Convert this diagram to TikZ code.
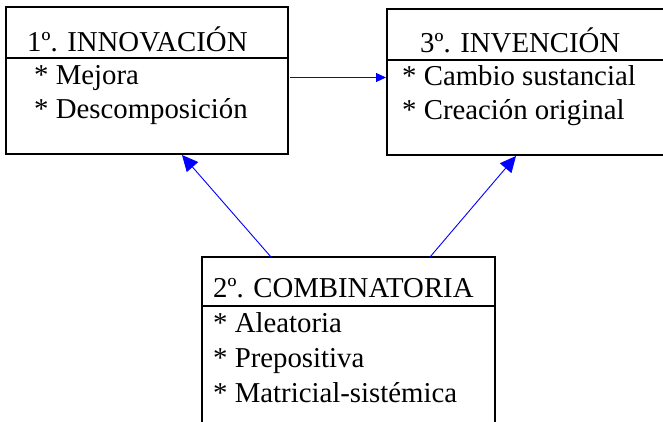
\documentclass[tikz,border=0pt]{standalone}
\usepackage{fontspec}
\setmainfont{Liberation Serif}
\usetikzlibrary{arrows.meta,calc}
\begin{document}
\begin{tikzpicture}[x=1pt,y=-1pt,
  boxst/.style={draw=black,line width=2.6pt,inner sep=0pt,fill=white},
  divst/.style={draw=black,line width=1.1pt},
  txt/.style={anchor=base west,inner sep=0pt,font=\rmfamily\fontsize{28.8}{34}\selectfont},
  arr/.style={draw=blue,line width=0.9pt,-{Triangle[length=16pt,width=15pt]}},
  arrh/.style={draw=blue,line width=0.9pt,-{Triangle[length=10pt,width=9pt]}}]
\useasboundingbox (0,0) rectangle (663,422);
% boxes
\draw[boxst] (6,7) rectangle (288,154);
\coordinate (innNW) at (6,7); \coordinate (innSE) at (288,154);
\draw[boxst] (387,9) rectangle (668,155);
\coordinate (invNW) at (387,9); \coordinate (invSE) at (668,155);
\draw[boxst] (202,257) rectangle (495,432);
\coordinate (comNW) at (202,257); \coordinate (comSE) at (495,432);
% dividers
\draw[divst] (6,58) -- (288,58);
\draw[divst] (387,60) -- (668,60);
\draw[divst] (202,306) -- (495,306);
% texts
\node[txt] (t1) at (27,52) {1º. INNOVACIÓN};
\node[txt] (t1a) at (34,85) {* Mejora};
\node[txt] (t1b) at (34,119) {* Descomposición};
\node[txt] (t3) at (420,53) {3º. INVENCIÓN};
\node[txt] (t3a) at (402,86) {* Cambio sustancial};
\node[txt] (t3b) at (402,120) {* Creación original};
\node[txt] (t2) at (213,297) {2º. COMBINATORIA};
\node[txt] (t2a) at (213,332) {* Aleatoria};
\node[txt] (t2b) at (213,367) {* Prepositiva};
\node[txt] (t2c) at (213,402) {* Matricial-sistémica};
% connector anchors
\coordinate (hS) at (290,77.5);
\coordinate (hE) at (386,77.5);
\coordinate (c1S) at (271,257);
\coordinate (c1E) at (182,155);
\coordinate (c2S) at (430,257);
\coordinate (c2E) at (516,156);
\draw[arrh] (hS) -- (hE);
\draw[arr] (c1S) -- (c1E);
\draw[arr] (c2S) -- (c2E);
\end{tikzpicture}
\end{document}
